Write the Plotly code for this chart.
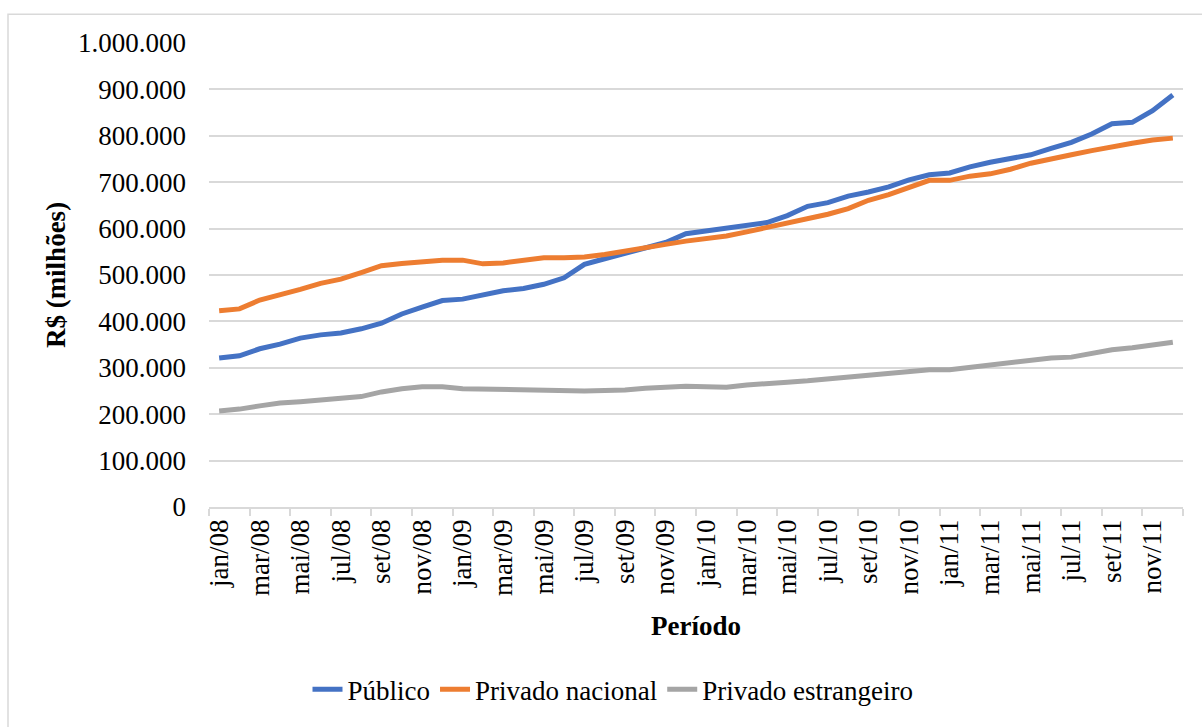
import plotly.graph_objects as go

meses = ["jan", "fev", "mar", "abr", "mai", "jun", "jul", "ago", "set", "out", "nov", "dez"]
anos = ["08", "09", "10", "11"]
periodos = [f"{m}/{a}" for a in anos for m in meses]

publico = [321, 326, 341, 351, 364, 371, 375, 384, 396, 416, 431, 445,
           448, 457, 466, 471, 480, 494, 523, 535, 547, 559, 570, 589,
           595, 600, 605, 613, 628, 648, 656, 670, 679, 690, 705, 716,
           720, 733, 743, 750, 759, 773, 786, 804, 826, 829, 854, 888]
privado_nacional = [423, 427, 446, 457, 469, 482, 491, 505, 520, 525, 529, 532,
                    532, 524, 526, 531, 537, 537, 539, 544, 552, 559, 566, 573,
                    578, 584, 593, 602, 613, 620, 631, 643, 661, 673, 689, 704,
                    704, 713, 718, 728, 741, 751, 759, 768, 777, 784, 791, 795]
privado_estrangeiro = [207, 211, 218, 224, 227, 231, 234, 238, 248, 255, 259, 259,
                       255, 254, 255, 254, 251, 252, 250, 251, 252, 256, 258, 260,
                       259, 258, 263, 265, 269, 272, 276, 281, 285, 287, 293, 296,
                       296, 301, 308, 313, 318, 321, 323, 330, 339, 343, 348, 355]

series = [
    ("Público", publico, "#4472C4"),
    ("Privado nacional", privado_nacional, "#ED7D31"),
    ("Privado estrangeiro", privado_estrangeiro, "#A5A5A5"),
]

FONT = "'Times New Roman', 'Liberation Serif', Tinos, serif"
FS = 27
idx = list(range(len(periodos)))

fig = go.Figure()
for nome, vals, cor in series:
    fig.add_trace(go.Scatter(
        x=idx, y=[v * 1000 for v in vals], name=nome, mode="lines",
        line=dict(color=cor, width=5), hoverinfo="skip",
    ))

L, R, T, B = 209, 19, 43, 217
W, H = 1202, 727
pw, ph = W - L - R, H - T - B

def px_x(px):
    return (px - L) / pw

def px_y(py):
    return (H - B - py) / ph

fig.update_layout(
    width=W, height=H,
    margin=dict(l=L, r=R, t=T, b=B, pad=0),
    paper_bgcolor="white", plot_bgcolor="white",
    font=dict(family=FONT, size=FS, color="black"),
    separators=",.",
    showlegend=True,
    legend=dict(orientation="h", x=px_x(613), xanchor="center", y=px_y(694), yanchor="middle",
                font=dict(family=FONT, size=FS), itemwidth=30, tracegroupgap=0),
    xaxis=dict(
        range=[-0.5, len(periodos) - 0.5],
        tickmode="array", tickvals=idx[::2], ticktext=periodos[::2],
        tickangle=-90, ticks="", showgrid=False, zeroline=False,
        showline=True, linecolor="#D9D9D9", linewidth=1.5,
        ticklabelstandoff=0,
        tickfont=dict(family=FONT, size=FS),
        minor=dict(tickmode="linear", tick0=-0.5, dtick=2, ticks="outside", ticklen=7,
                   tickcolor="#D9D9D9", tickwidth=1.5, showgrid=False),
        title=dict(text="<b>Período</b>", font=dict(family=FONT, size=FS), standoff=21),
        fixedrange=True,
    ),
    yaxis=dict(
        range=[0, 1000000], tickmode="linear", tick0=0, dtick=100000,
        tickformat=",d", showgrid=True, gridcolor="#D9D9D9", gridwidth=1.5,
        zeroline=False, showline=False, ticks="",
        ticklabelstandoff=22,
        tickfont=dict(family=FONT, size=FS),
        title=dict(text="<b>R$ (milhões)</b>", font=dict(family=FONT, size=FS), standoff=4),
        fixedrange=True,
    ),
    shapes=[dict(type="rect", xref="paper", yref="paper",
                 x0=px_x(8), x1=px_x(1215), y0=px_y(745), y1=px_y(14),
                 line=dict(color="#D9D9D9", width=1.5), fillcolor="rgba(0,0,0,0)",
                 layer="below")],
)

fig.write_html("out.html", config={"displayModeBar": False},
               post_script="document.body.style.margin='0';document.body.style.overflow='hidden';")
